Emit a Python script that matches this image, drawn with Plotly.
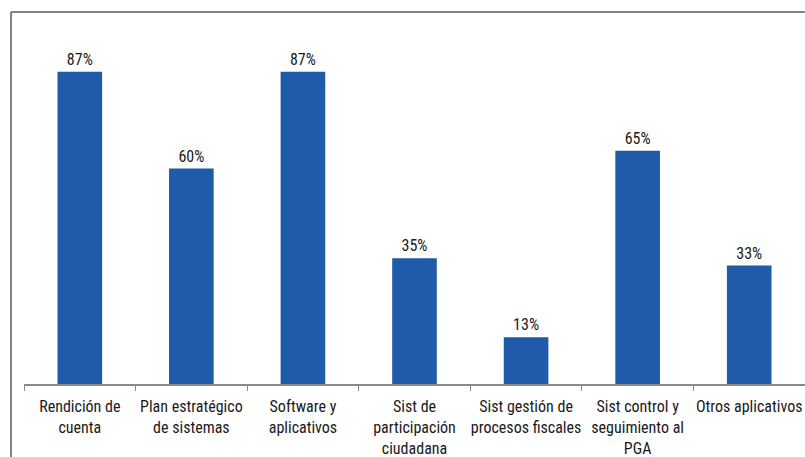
import plotly.graph_objects as go

categorias = [
    "Rendición de<br>cuenta",
    "Plan estratégico<br>de sistemas",
    "Software y<br>aplicativos",
    "Sist de<br>participación<br>ciudadana",
    "Sist gestión de<br>procesos fiscales",
    "Sist control y<br>seguimiento al<br>PGA",
    "Otros aplicativos",
]
porcentajes = [87, 60, 87, 35, 13, 65, 33]

AZUL = "#1F5BA8"
FUENTE = "Liberation Sans Narrow, Roboto Condensed, Arial Narrow, Liberation Sans, sans-serif"

fig = go.Figure(go.Bar(
    x=categorias, y=porcentajes,
    marker=dict(color=AZUL, line=dict(width=0)),
    text=[f"{v}%" for v in porcentajes],
    textposition="outside", cliponaxis=False,
    textfont=dict(size=16, color="#1a1a1a", family=FUENTE),
))

fig.update_layout(
    width=805, height=457,
    plot_bgcolor="white", paper_bgcolor="white",
    margin=dict(l=24, r=0, t=25, b=73, autoexpand=False),
    bargap=0.6, showlegend=False,
    font=dict(family=FUENTE, size=16, color="#1a1a1a"),
    xaxis=dict(
        showline=True, linecolor="#8a8a8a", linewidth=1.5,
        ticks="outside", tickson="boundaries", ticklen=5, tickcolor="#8a8a8a",
        tickangle=0, automargin=False, ticklabelstandoff=7,
        tickfont=dict(size=16, family=FUENTE, color="#1a1a1a"),
    ),
    yaxis=dict(range=[0, 100], visible=False),
    shapes=[
        # marco exterior del gráfico
        dict(type="line", xref="paper", yref="paper", x0=-0.0166, x1=-0.0166, y0=1.036, y1=-0.3,
             line=dict(color="#5a5a5a", width=1.5)),
        dict(type="line", xref="paper", yref="paper", x0=-0.0166, x1=1.05, y0=1.036, y1=1.036,
             line=dict(color="#5a5a5a", width=1.5)),
    ],
)

# sin margen del body para que la figura empiece en (0, 0)
fig.write_html("out.html", config={"displayModeBar": False},
               post_script="document.body.style.margin='0';")
